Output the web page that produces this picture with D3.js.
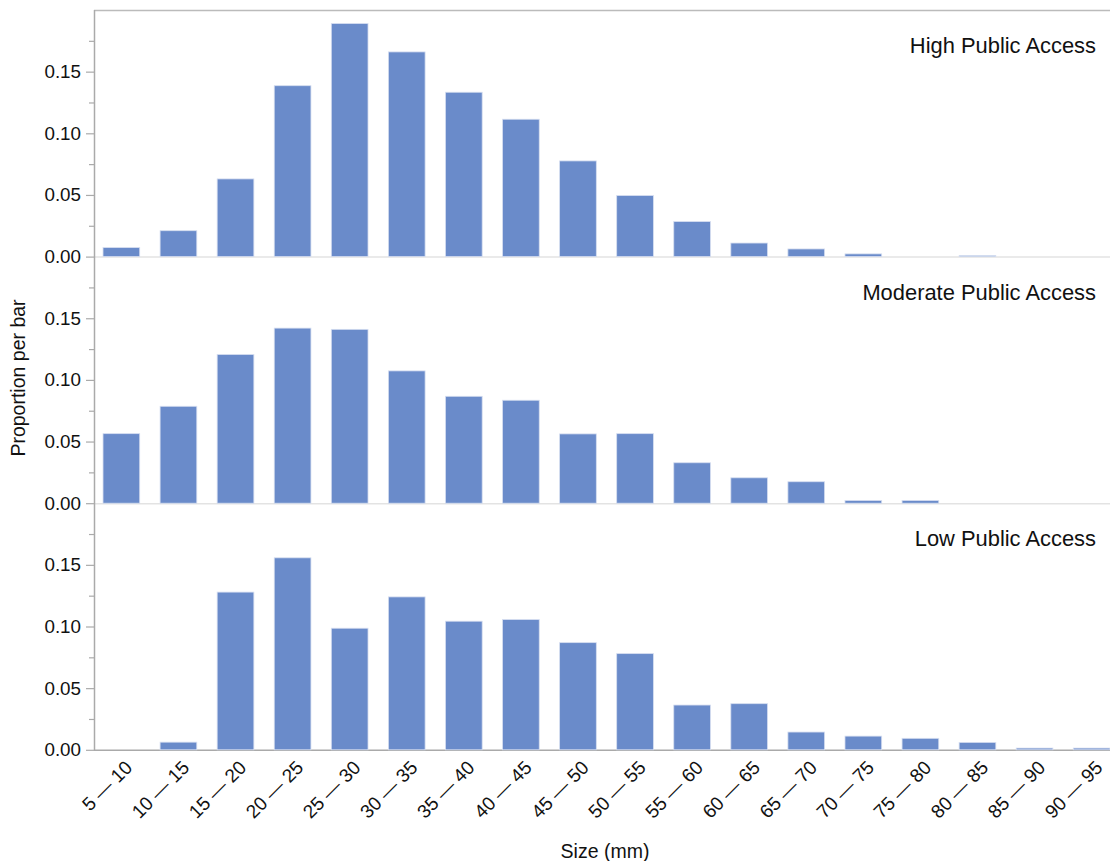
<!DOCTYPE html>
<html>
<head>
<meta charset="utf-8">
<script src="https://cdn.jsdelivr.net/npm/d3@7/dist/d3.min.js"></script>
<style>
  html, body { margin: 0; padding: 0; background: #fff; overflow: hidden; }
  svg { display: block; }
  text { font-family: "Liberation Sans", Arial, Helvetica, sans-serif; fill: #111; }
</style>
</head>
<body>
<svg id="chart" width="1110" height="861"></svg>
<script>
const categories = ["5 \u2014 10","10 \u2014 15","15 \u2014 20","20 \u2014 25","25 \u2014 30","30 \u2014 35","35 \u2014 40","40 \u2014 45","45 \u2014 50","50 \u2014 55","55 \u2014 60","60 \u2014 65","65 \u2014 70","70 \u2014 75","75 \u2014 80","80 \u2014 85","85 \u2014 90","90 \u2014 95"];
const panelNames = ["High Public Access", "Moderate Public Access", "Low Public Access"];
const highValues     = [0.0073, 0.021, 0.063, 0.1386, 0.189, 0.166, 0.1333, 0.1114, 0.0776, 0.0495, 0.0284, 0.011, 0.0062, 0.0022, 0, 0.0008, 0, 0];
const moderateValues = [0.0564, 0.0786, 0.1206, 0.142, 0.141, 0.1073, 0.0867, 0.0835, 0.0562, 0.0564, 0.0328, 0.0206, 0.0174, 0.0022, 0.0022, 0, 0, 0];
const lowValues      = [0, 0.0062, 0.1279, 0.1557, 0.0986, 0.124, 0.1043, 0.1056, 0.0869, 0.078, 0.0363, 0.0374, 0.0144, 0.0111, 0.0093, 0.006, 0.0014, 0.0014];
const yTicks = [0, 0.05, 0.10, 0.15];
const yMinorTicks = [0.025, 0.075, 0.125, 0.175];

(function () {
const series = [highValues, moderateValues, lowValues];
const svg = d3.select("#chart");

const left = 94, plotTop = 10, panelH = 246.6;
const x = d3.scaleBand().domain(categories).range([94, 1119]).paddingInner(0.357).paddingOuter(0.158);

series.forEach((vals, i) => {
  const y0 = plotTop + panelH * (i + 1);
  const y1 = plotTop + panelH * i;
  const y = d3.scaleLinear().domain([0, 0.2]).range([y0, y1]);
  const g = svg.append("g");

  // baseline
  g.append("line")
    .attr("x1", left).attr("x2", 1110)
    .attr("y1", y(0) + 0.5).attr("y2", y(0) + 0.5)
    .attr("stroke", i === 2 ? "#aaaaaa" : "#e3e3e3").attr("stroke-width", 1.5);

  // bars
  g.selectAll("rect").data(vals).join("rect")
    .attr("x", (d, j) => x(categories[j]))
    .attr("width", x.bandwidth())
    .attr("y", d => y(d))
    .attr("height", d => y(0) - y(d))
    .attr("fill", "#6a8bca")
    .attr("stroke", "#d6def0")
    .attr("stroke-width", 0.8)
    .attr("display", d => d > 0 ? null : "none");

  // y axis
  const axis = d3.axisLeft(y).tickValues(yTicks).tickFormat(d3.format(".2f")).tickSize(8).tickPadding(5);
  const ag = g.append("g").attr("transform", `translate(${left},0)`).call(axis);
  ag.select(".domain").remove();
  ag.selectAll("line").attr("stroke", "#aaaaaa").attr("stroke-width", 1.2);
  ag.selectAll("text").attr("font-size", 18.8).attr("fill", "#111")
    .attr("font-family", "'Liberation Sans', Arial, sans-serif");
  const minor = d3.axisLeft(y).tickValues(yMinorTicks).tickSize(5).tickFormat("");
  const mg = g.append("g").attr("transform", `translate(${left},0)`).call(minor);
  mg.select(".domain").remove();
  mg.selectAll("line").attr("stroke", "#aaaaaa").attr("stroke-width", 1.2);

  // panel title
  g.append("text")
    .attr("x", 1096).attr("y", y1 + 43)
    .attr("text-anchor", "end")
    .attr("font-family", "Lato, 'Open Sans', sans-serif")
    .attr("font-size", 21.9)
    .attr("fill", "#111")
    .text(panelNames[i]);
});

// frame: top border and left axis
svg.append("line").attr("x1", left).attr("x2", 1110).attr("y1", plotTop + 0.5).attr("y2", plotTop + 0.5)
  .attr("stroke", "#bbbbbb").attr("stroke-width", 1.5);
svg.append("line").attr("x1", left + 0.5).attr("x2", left + 0.5).attr("y1", plotTop).attr("y2", plotTop + panelH * 3 + 1)
  .attr("stroke", "#aaaaaa").attr("stroke-width", 1.5);

// x axis labels
const bottom = plotTop + panelH * 3;
const xa = d3.axisBottom(x).tickSize(0).tickPadding(0);
const xg = svg.append("g").attr("transform", `translate(0,${bottom})`).call(xa);
xg.select(".domain").remove();
xg.selectAll("text")
  .attr("font-size", 19).attr("fill", "#111")
  .attr("font-family", "'Liberation Sans', Arial, sans-serif")
  .attr("text-anchor", "end")
  .attr("dy", null).attr("y", 0)
  .attr("transform", "translate(12,19) rotate(-45)");

// axis titles
svg.append("text").attr("x", 605).attr("y", 858).attr("text-anchor", "middle")
  .attr("font-size", 19.5).text("Size (mm)");
svg.append("text").attr("transform", "translate(25,378) rotate(-90)").attr("text-anchor", "middle")
  .attr("font-size", 19.5).text("Proportion per bar");
})();
</script>
</body>
</html>
